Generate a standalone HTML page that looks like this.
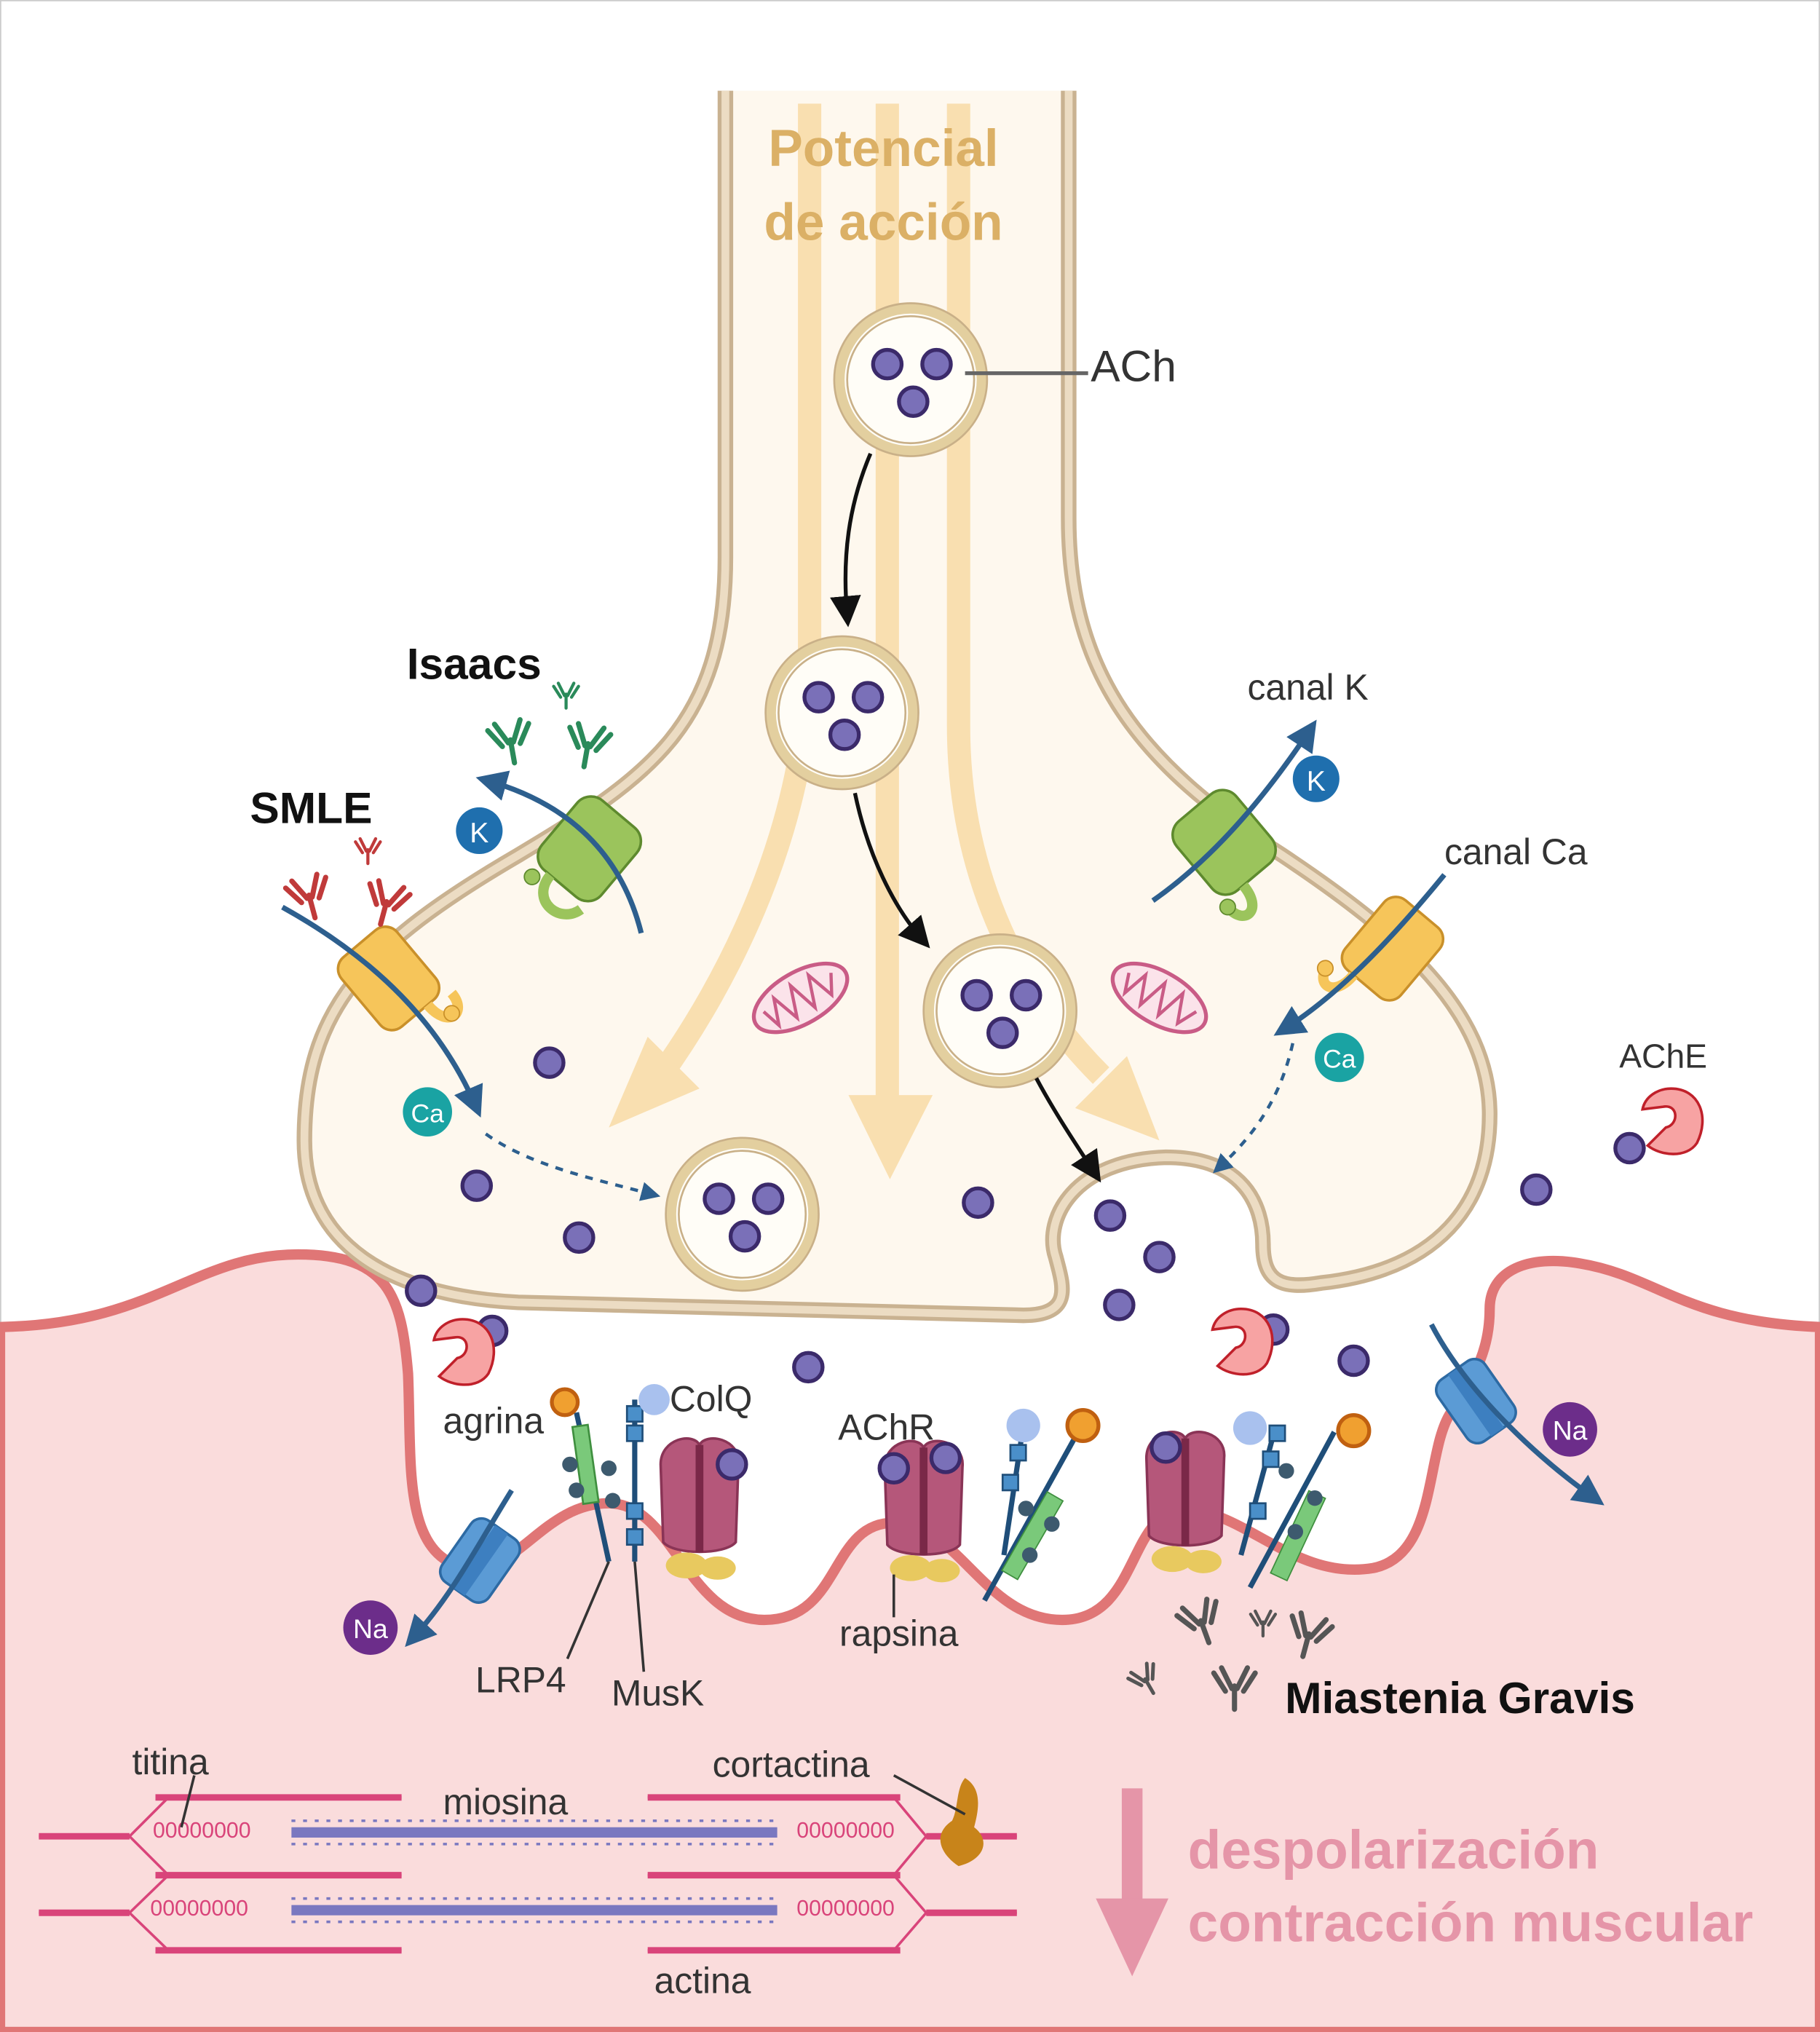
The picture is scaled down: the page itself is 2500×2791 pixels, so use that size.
<!DOCTYPE html>
<html><head><meta charset="utf-8"><style>
html,body{margin:0;padding:0;background:#fff}
svg{display:block}
text{font-family:"Liberation Sans",sans-serif}
</style></head><body>
<svg width="2500" height="2791" viewBox="0 0 1405 1568" preserveAspectRatio="none" xmlns="http://www.w3.org/2000/svg">
<defs>
<marker id="ab" markerWidth="8" markerHeight="8" refX="5" refY="4" orient="auto" markerUnits="strokeWidth"><path d="M0,0 L8,4 L0,8 Z" fill="#111"/></marker>
<marker id="abl" markerWidth="6" markerHeight="6" refX="4" refY="3" orient="auto" markerUnits="strokeWidth"><path d="M0,0 L6,3 L0,6 Z" fill="#2d5f8e"/></marker>
<g id="ach"><circle r="11" fill="#7a70b8" stroke="#3b2a6a" stroke-width="3"/></g>
<g id="ves"><circle r="55" fill="#fffdf7" stroke="#e3cf9f" stroke-width="8"/><circle r="49" fill="none" stroke="#c9b088" stroke-width="1.5"/><circle r="59" fill="none" stroke="#c9b088" stroke-width="1.5"/>
<use href="#ach" x="-18" y="-12"/><use href="#ach" x="20" y="-12"/><use href="#ach" x="2" y="17"/></g>
<g id="abody"><path d="M0,6 L0,24 M-2,8 L-10,-8 M2,8 L10,-8 M-7,10 L-16,-4 M7,10 L16,-4" stroke-width="4" fill="none" stroke-linecap="round"/></g>
<g id="ache"><path d="M0,-22 C22,-22 30,0 20,20 C12,32 -8,30 -18,22 L-4,8 C6,6 6,-10 -6,-8 L-22,-6 C-20,-16 -10,-22 0,-22 Z" fill="#f7a3a3" stroke="#c0202a" stroke-width="2"/></g>
<g id="rec"><path d="M-30,-30 C-30,-50 -5,-55 0,-45 C5,-55 32,-50 30,-30 L28,30 C20,40 -20,40 -28,30 Z" fill="#b5577a" stroke="#8a3456" stroke-width="2"/><path d="M0,-45 L0,38" stroke="#7a2848" stroke-width="6"/><ellipse cx="-10" cy="48" rx="16" ry="10" fill="#e8c95f"/><ellipse cx="14" cy="50" rx="14" ry="9" fill="#e8c95f"/></g>
</defs>
<rect x="0" y="0" width="1405" height="1568" fill="#fff" stroke="#ccc" stroke-width="2"/>
<path d="M0,1024 C120,1022 150,968 230,968 C300,968 310,1000 315,1060 C318,1130 310,1200 360,1210 C400,1215 420,1160 470,1160 C520,1160 530,1250 590,1250 C650,1250 640,1175 690,1175 C740,1175 760,1250 820,1250 C880,1250 870,1165 915,1165 C960,1165 1000,1220 1060,1210 C1110,1200 1100,1120 1120,1090 C1140,1060 1150,1040 1150,1010 C1150,980 1180,968 1220,975 C1280,985 1300,1020 1405,1024 L1405,1568 L0,1568 Z" fill="#fadcdc" stroke="#e07676" stroke-width="8"/>
<path d="M560,70 L560,430 C560,560 500,600 400,660 C280,730 235,780 235,880 C235,960 300,1000 400,1005 L790,1015 C830,1015 820,990 815,970 C805,940 830,895 900,893 C960,893 975,930 975,960 C975,990 990,995 1020,990 C1110,980 1150,930 1150,860 C1150,780 1080,720 990,660 C880,590 825,520 825,400 L825,70" fill="#fef8ee" stroke="#c9b291" stroke-width="12"/>
<path d="M560,70 L560,430 C560,560 500,600 400,660 C280,730 235,780 235,880 C235,960 300,1000 400,1005 L790,1015 C830,1015 820,990 815,970 C805,940 830,895 900,893 C960,893 975,930 975,960 C975,990 990,995 1020,990 C1110,980 1150,930 1150,860 C1150,780 1080,720 990,660 C880,590 825,520 825,400 L825,70" fill="none" stroke="#ecdcc3" stroke-width="6"/>
<g fill="none" stroke="#f9dfb0" stroke-width="18">
<path d="M625,80 L625,500 C625,640 560,760 510,830"/>
<path d="M685,80 L685,860"/>
<path d="M740,80 L740,560 C740,680 790,770 850,830"/>
</g>
<path d="M470,870 L540,840 L500,800 Z" fill="#f9dfb0"/>
<path d="M655,845 L720,845 L687,910 Z" fill="#f9dfb0"/>
<path d="M895,880 L870,815 L830,855 Z" fill="#f9dfb0"/>
<text x="682" y="128" text-anchor="middle" font-size="40" font-weight="bold" fill="#dbb066">Potencial</text>
<text x="682" y="185" text-anchor="middle" font-size="40" font-weight="bold" fill="#dbb066">de acción</text>
<use href="#ves" x="703" y="293"/><use href="#ves" x="650" y="550"/><use href="#ves" x="772" y="780"/><use href="#ves" x="573" y="937"/>
<line x1="745" y1="288" x2="840" y2="288" stroke="#666" stroke-width="3"/>
<text x="842" y="294" font-size="34" fill="#333">ACh</text>
<path d="M672,350 C655,390 650,430 654,475" stroke="#111" stroke-width="3" fill="none" marker-end="url(#ab)"/>
<path d="M660,612 C670,660 690,700 712,725" stroke="#111" stroke-width="3" fill="none" marker-end="url(#ab)"/>
<path d="M800,832 C815,860 832,885 845,905" stroke="#111" stroke-width="3" fill="none" marker-end="url(#ab)"/>
<g transform="translate(618,770) rotate(-30)"><ellipse rx="40" ry="20" fill="#fbe3ea" stroke="#c95c86" stroke-width="3"/><path d="M-30,-5 L-25,10 L-18,-10 L-10,12 L-2,-12 L6,12 L14,-12 L22,10 L30,-5" fill="none" stroke="#c95c86" stroke-width="2.5"/></g>
<g transform="translate(895,770) rotate(30)"><ellipse rx="40" ry="20" fill="#fbe3ea" stroke="#c95c86" stroke-width="3"/><path d="M-30,-5 L-25,10 L-18,-10 L-10,12 L-2,-12 L6,12 L14,-12 L22,10 L30,-5" fill="none" stroke="#c95c86" stroke-width="2.5"/></g>
<use href="#ach" x="424" y="820"/><use href="#ach" x="368" y="915"/><use href="#ach" x="447" y="955"/><use href="#ach" x="755" y="928"/><use href="#ach" x="857" y="938"/><use href="#ach" x="895" y="970"/><use href="#ach" x="864" y="1007"/><use href="#ach" x="325" y="996"/><use href="#ach" x="380" y="1027"/><use href="#ach" x="624" y="1055"/><use href="#ach" x="983" y="1026"/><use href="#ach" x="1045" y="1050"/><use href="#ach" x="1186" y="918"/><use href="#ach" x="1258" y="886"/>
<use href="#ache" x="1290" y="862"/><use href="#ache" x="357" y="1040"/><use href="#ache" x="958" y="1032"/>
<text x="1250" y="824" font-size="26" fill="#333">AChE</text>
<g transform="translate(455,655) rotate(40)"><rect x="-30" y="-35" width="60" height="70" rx="14" fill="#9bc45c" stroke="#5e8a2e" stroke-width="2"/><path d="M-10,35 C-10,60 20,60 25,40" fill="none" stroke="#9bc45c" stroke-width="8"/><circle cx="-20" cy="45" r="6" fill="#9bc45c" stroke="#5e8a2e"/></g>
<path d="M495,720 C480,660 440,620 375,602" stroke="#2d5f8e" stroke-width="4" fill="none" marker-end="url(#abl)"/>
<g transform="translate(300,755) rotate(-40)"><rect x="-28" y="-35" width="56" height="70" rx="12" fill="#f6c55a" stroke="#c9902a" stroke-width="2"/><path d="M10,35 C10,60 30,60 30,40" fill="none" stroke="#f6c55a" stroke-width="8"/><circle cx="20" cy="52" r="6" fill="#f6c55a" stroke="#c9902a"/></g>
<path d="M218,700 C290,740 340,790 368,855" stroke="#2d5f8e" stroke-width="4" fill="none" marker-end="url(#abl)"/>
<path d="M375,875 C410,900 460,910 505,922" stroke="#2d5f8e" stroke-width="2.5" stroke-dasharray="6,6" fill="none" marker-end="url(#abl)"/>
<g transform="translate(945,650) rotate(-40)"><rect x="-30" y="-35" width="60" height="70" rx="14" fill="#9bc45c" stroke="#5e8a2e" stroke-width="2"/><path d="M-10,35 C-10,60 -30,60 -30,40" fill="none" stroke="#9bc45c" stroke-width="8"/><circle cx="-30" cy="40" r="6" fill="#9bc45c" stroke="#5e8a2e"/></g>
<path d="M890,695 C940,660 980,610 1012,562" stroke="#2d5f8e" stroke-width="4" fill="none" marker-end="url(#abl)"/>
<g transform="translate(1075,732) rotate(40)"><rect x="-28" y="-35" width="56" height="70" rx="12" fill="#f6c55a" stroke="#c9902a" stroke-width="2"/><path d="M-10,35 C-10,60 -30,60 -30,40" fill="none" stroke="#f6c55a" stroke-width="8"/><circle cx="-30" cy="45" r="6" fill="#f6c55a" stroke="#c9902a"/></g>
<path d="M1115,675 C1070,730 1030,770 990,795" stroke="#2d5f8e" stroke-width="4" fill="none" marker-end="url(#abl)"/>
<path d="M998,805 C990,840 975,870 940,902" stroke="#2d5f8e" stroke-width="2.5" stroke-dasharray="6,6" fill="none" marker-end="url(#abl)"/>
<circle cx="370" cy="641" r="18" fill="#1f6fae"/><text x="370" y="650" text-anchor="middle" font-size="22" fill="#fff">K</text>
<circle cx="1016" cy="601" r="18" fill="#1f6fae"/><text x="1016" y="610" text-anchor="middle" font-size="22" fill="#fff">K</text>
<circle cx="330" cy="858" r="19" fill="#1aa3a3"/><text x="330" y="866" text-anchor="middle" font-size="20" fill="#fff">Ca</text>
<circle cx="1034" cy="816" r="19" fill="#1aa3a3"/><text x="1034" y="824" text-anchor="middle" font-size="20" fill="#fff">Ca</text>
<circle cx="286" cy="1256" r="21" fill="#6c2d8a"/><text x="286" y="1264" text-anchor="middle" font-size="21" fill="#fff">Na</text>
<circle cx="1212" cy="1103" r="21" fill="#6c2d8a"/><text x="1212" y="1111" text-anchor="middle" font-size="21" fill="#fff">Na</text>
<g transform="translate(370,1205) rotate(35)"><rect x="-22" y="-30" width="44" height="58" rx="10" fill="#5b9bd5" stroke="#2d6aa3" stroke-width="2"/><rect x="-6" y="-30" width="12" height="58" fill="#3d7fc0"/></g>
<path d="M395,1150 C370,1190 350,1230 318,1265" stroke="#2d5f8e" stroke-width="4" fill="none" marker-end="url(#abl)"/>
<g transform="translate(1140,1082) rotate(-35)"><rect x="-22" y="-30" width="44" height="58" rx="10" fill="#5b9bd5" stroke="#2d6aa3" stroke-width="2"/><rect x="-6" y="-30" width="12" height="58" fill="#3d7fc0"/></g>
<path d="M1105,1022 C1130,1070 1180,1120 1232,1157" stroke="#2d5f8e" stroke-width="4" fill="none" marker-end="url(#abl)"/>
<g stroke="#2a8a5a"><use href="#abody" transform="translate(393,565) rotate(-10)"/><use href="#abody" transform="translate(455,568) rotate(10)"/><use href="#abody" transform="translate(437,532) scale(.6)"/></g>
<g stroke="#c03a3a"><use href="#abody" transform="translate(237,685) rotate(-15)"/><use href="#abody" transform="translate(300,690) rotate(15)"/><use href="#abody" transform="translate(284,652) scale(.6)"/></g>
<g stroke="#555"><use href="#abody" transform="translate(925,1245) rotate(-20)"/><use href="#abody" transform="translate(1012,1255) rotate(15)"/><use href="#abody" transform="translate(975,1248) scale(.6)"/><use href="#abody" transform="translate(953,1295)"/><use href="#abody" transform="translate(882,1292) scale(.7) rotate(-30)"/></g>
<use href="#rec" x="540" y="1160"/><use href="#rec" x="713" y="1162"/><use href="#rec" x="915" y="1155"/>
<use href="#ach" x="565" y="1130"/><use href="#ach" x="690" y="1133"/><use href="#ach" x="730" y="1125"/><use href="#ach" x="900" y="1117"/>
<g stroke-width="4" fill="none">
<path d="M445,1090 L470,1205" stroke="#1f4e79"/><rect x="446" y="1100" width="12" height="60" fill="#7ac97a" stroke="#3f8f3f" stroke-width="1.5" transform="rotate(-8 452 1130)"/>
<path d="M490,1080 L490,1205" stroke="#1f4e79"/>
<path d="M760,1235 L835,1100" stroke="#1f4e79"/><path d="M775,1200 L790,1100" stroke="#1f4e79"/>
<path d="M965,1225 L1030,1105" stroke="#1f4e79"/><path d="M958,1200 L985,1100" stroke="#1f4e79"/>
</g>
<g fill="#4a8fc9" stroke="#1f4e79" stroke-width="1.5">
<rect x="484" y="1085" width="12" height="12"/><rect x="484" y="1100" width="12" height="12"/><rect x="484" y="1160" width="12" height="12"/><rect x="484" y="1180" width="12" height="12"/>
<rect x="780" y="1115" width="12" height="12"/><rect x="774" y="1138" width="12" height="12"/><rect x="980" y="1100" width="12" height="12"/><rect x="975" y="1120" width="12" height="12"/><rect x="965" y="1160" width="12" height="12"/>
</g>
<rect x="790" y="1150" width="14" height="70" fill="#7ac97a" stroke="#3f8f3f" transform="rotate(30 797 1185)"/>
<rect x="995" y="1150" width="14" height="70" fill="#7ac97a" stroke="#3f8f3f" transform="rotate(25 1002 1185)"/>
<circle cx="436" cy="1082" r="10" fill="#f0a030" stroke="#c06010" stroke-width="3"/>
<circle cx="836" cy="1100" r="12" fill="#f0a030" stroke="#c06010" stroke-width="3"/>
<circle cx="1045" cy="1104" r="12" fill="#f0a030" stroke="#c06010" stroke-width="3"/>
<circle cx="505" cy="1080" r="12" fill="#a9c1ee"/><circle cx="790" cy="1100" r="13" fill="#a9c1ee"/><circle cx="965" cy="1102" r="13" fill="#a9c1ee"/>
<g fill="#3d5a6e"><circle cx="440" cy="1130" r="6"/><circle cx="445" cy="1150" r="6"/><circle cx="470" cy="1133" r="6"/><circle cx="473" cy="1158" r="6"/><circle cx="795" cy="1200" r="6"/><circle cx="812" cy="1176" r="6"/><circle cx="792" cy="1164" r="6"/><circle cx="993" cy="1135" r="6"/><circle cx="1015" cy="1156" r="6"/><circle cx="1000" cy="1182" r="6"/></g>
<line x1="470" y1="1205" x2="438" y2="1280" stroke="#333" stroke-width="2"/>
<line x1="490" y1="1205" x2="497" y2="1290" stroke="#333" stroke-width="2"/>
<line x1="690" y1="1215" x2="690" y2="1248" stroke="#333" stroke-width="2"/>
<g font-size="28" fill="#333">
<text x="963" y="540">canal K</text><text x="1115" y="667">canal Ca</text>
<text x="342" y="1106">agrina</text><text x="517" y="1089">ColQ</text><text x="647" y="1111">AChR</text>
<text x="648" y="1270">rapsina</text><text x="367" y="1306">LRP4</text><text x="472" y="1316">MusK</text>
<text x="102" y="1369">titina</text><text x="342" y="1400">miosina</text><text x="550" y="1371">cortactina</text><text x="505" y="1538">actina</text>
</g>
<g font-size="34" font-weight="bold" fill="#111">
<text x="314" y="524">Isaacs</text><text x="193" y="635">SMLE</text><text x="992" y="1322">Miastenia Gravis</text>
</g>
<g stroke="#d9447a" fill="none">
<path d="M30,1417 L100,1417 L130,1387 L310,1387 M130,1387 L100,1417 L130,1447 L310,1447 M30,1476 L100,1476 L130,1447 M100,1476 L130,1505 L310,1505" stroke-width="2"/>
<path d="M500,1387 L690,1387 L715,1417 L785,1417 M500,1447 L690,1447 L715,1417 M690,1447 L715,1476 L785,1476 M500,1505 L690,1505 L715,1476" stroke-width="2"/>
<g stroke-width="5"><line x1="120" y1="1387" x2="310" y2="1387"/><line x1="120" y1="1447" x2="310" y2="1447"/><line x1="120" y1="1505" x2="310" y2="1505"/><line x1="500" y1="1387" x2="695" y2="1387"/><line x1="500" y1="1447" x2="695" y2="1447"/><line x1="500" y1="1505" x2="695" y2="1505"/><line x1="30" y1="1417" x2="100" y2="1417"/><line x1="30" y1="1476" x2="100" y2="1476"/><line x1="715" y1="1417" x2="785" y2="1417"/><line x1="715" y1="1476" x2="785" y2="1476"/></g>
</g>
<g font-size="17" fill="#d9447a"><text x="118" y="1418">00000000</text><text x="116" y="1478">00000000</text><text x="615" y="1418">00000000</text><text x="615" y="1478">00000000</text></g>
<g stroke="#7a78c0" stroke-width="8"><line x1="225" y1="1414" x2="600" y2="1414"/><line x1="225" y1="1474" x2="600" y2="1474"/></g>
<g stroke="#7a78c0" stroke-width="2" stroke-dasharray="3,6"><line x1="225" y1="1405" x2="600" y2="1405"/><line x1="225" y1="1423" x2="600" y2="1423"/><line x1="225" y1="1465" x2="600" y2="1465"/><line x1="225" y1="1483" x2="600" y2="1483"/></g>
<path d="M745,1372 C758,1380 756,1395 752,1410 C765,1420 760,1435 740,1440 C725,1430 720,1415 735,1405 C740,1395 738,1380 745,1372 Z" fill="#c8841a"/>
<line x1="690" y1="1370" x2="745" y2="1400" stroke="#333" stroke-width="2"/>
<line x1="150" y1="1370" x2="140" y2="1410" stroke="#333" stroke-width="2"/>
<rect x="866" y="1380" width="16" height="90" fill="#e595a8"/>
<path d="M846,1465 L902,1465 L874,1525 Z" fill="#e595a8"/>
<g font-size="42" font-weight="bold" fill="#e595a8"><text x="917" y="1442">despolarización</text><text x="917" y="1498">contracción muscular</text></g>
</svg>
</body></html>
